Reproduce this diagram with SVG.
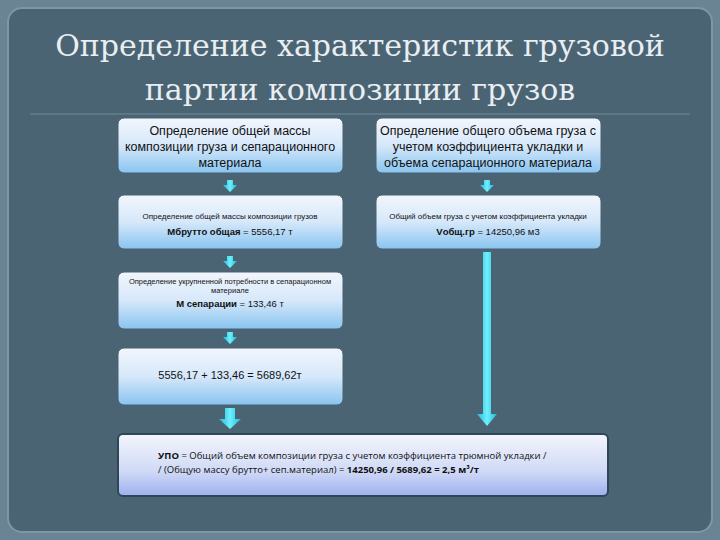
<svg xmlns="http://www.w3.org/2000/svg" width="720" height="540" viewBox="0 0 720 540">
<defs>
<linearGradient id="g1" x1="0" y1="0" x2="0" y2="1"><stop offset="0" stop-color="#f2f6fd"/><stop offset="0.5" stop-color="#d6e8fa"/><stop offset="1" stop-color="#88c4f0"/></linearGradient>
<linearGradient id="g2" x1="0" y1="0" x2="0" y2="1"><stop offset="0" stop-color="#f4f6fd"/><stop offset="0.6" stop-color="#d0daf6"/><stop offset="1" stop-color="#9eb0ee"/></linearGradient>
<linearGradient id="ga" x1="0" y1="0" x2="1" y2="0"><stop offset="0" stop-color="#1fb8d8"/><stop offset="0.5" stop-color="#6ef0ff"/><stop offset="1" stop-color="#1fb8d8"/></linearGradient>
</defs>
<style>
.box{fill:url(#g1);stroke:#4a6272;stroke-width:1}
.t{font-family:"Liberation Sans",Arial,sans-serif;fill:#111;text-anchor:middle}
.h{font-size:12.5px}
.s{font-size:8px}
.title{font-family:"DejaVu Serif","Liberation Serif",serif;font-size:30px;fill:#e8eef2;text-anchor:middle}
.arr{fill:url(#ga)}
</style>
<rect width="720" height="540" fill="#6a8494"/>
<rect x="8" y="8" width="704" height="524" rx="14" fill="#4b6474" stroke="#7e97a6" stroke-width="2"/>
<text class="title" x="360" y="56">Определение характеристик грузовой</text>
<text class="title" x="360" y="100">партии композиции грузов</text>
<line x1="30" y1="114" x2="690" y2="114" stroke="#6f8a9a" stroke-width="1"/>
<g id="connectors">
<path class="arr" d="M227 180h6v5h4l-7 7l-7-7h4z"/>
<path class="arr" d="M484 180h6v5h4l-7 7l-7-7h4z"/>
<path class="arr" d="M227 256h6v5h4l-7 7l-7-7h4z"/>
<path class="arr" d="M227 332h6v5h4l-7 7l-7-7h4z"/>
<path class="arr" d="M225 408h10v11h6l-11 10l-11-10h6z"/>
<path class="arr" d="M483 252h8v162h6l-10 12l-10-12h6z"/>
</g>
<g id="n1"><rect class="box" x="118" y="118" width="225" height="55" rx="6"/>
<text class="t h" x="230" y="135">Определение общей массы</text>
<text class="t h" x="230" y="151">композиции груза и сепарационного</text>
<text class="t h" x="230" y="167">материала</text></g>
<g id="n2"><rect class="box" x="376" y="118" width="225" height="55" rx="6"/>
<text class="t h" x="488" y="135">Определение общего объема груза с</text>
<text class="t h" x="488" y="151">учетом коэффициента укладки  и</text>
<text class="t h" x="488" y="167">объема сепарационного материала</text></g>
<g id="n3"><rect class="box" x="118" y="195" width="225" height="54" rx="6"/>
<text class="t s" x="230" y="219">Определение общей массы композиции грузов</text>
<text class="t" x="230" y="235" font-size="9.5px"><tspan font-weight="bold">Мбрутто общая</tspan> = 5556,17 т</text></g>
<g id="n4"><rect class="box" x="376" y="195" width="225" height="54" rx="6"/>
<text class="t s" x="488" y="219">Общий объем груза с учетом коэффициента укладки</text>
<text class="t" x="488" y="235" font-size="9.5px"><tspan font-weight="bold">Vобщ.гр</tspan> = 14250,96 м3</text></g>
<g id="n5"><rect class="box" x="118" y="272" width="225" height="57" rx="6"/>
<text class="t" x="230" y="284" font-size="7.5px">Определение укрупненной потребности в сепарационном</text>
<text class="t" x="230" y="293" font-size="7.5px">материале</text>
<text class="t" x="230" y="307" font-size="9.5px"><tspan font-weight="bold">М сепарации</tspan> = 133,46 т</text></g>
<g id="n6"><rect class="box" x="118" y="348" width="225" height="57" rx="6"/>
<text class="t" x="230" y="379" font-size="11px">5556,17 + 133,46 = 5689,62т</text></g>
<g id="n7"><rect x="118" y="434" width="490" height="62" rx="5" fill="url(#g2)" stroke="#2e4656" stroke-width="2"/>
<text font-family="'Open Sans','Liberation Sans',sans-serif" font-size="9.5px" fill="#111" x="158" y="459"><tspan font-weight="bold">УПО</tspan> = Общий объем композиции груза с учетом коэффициента трюмной укладки /</text>
<text font-family="'Open Sans','Liberation Sans',sans-serif" font-size="9.5px" fill="#111" x="158" y="473">/ (Общую массу брутто+ сеп.материал) = <tspan font-weight="bold">14250,96 / 5689,62 = 2,5 м³/т</tspan></text></g>
</svg>
